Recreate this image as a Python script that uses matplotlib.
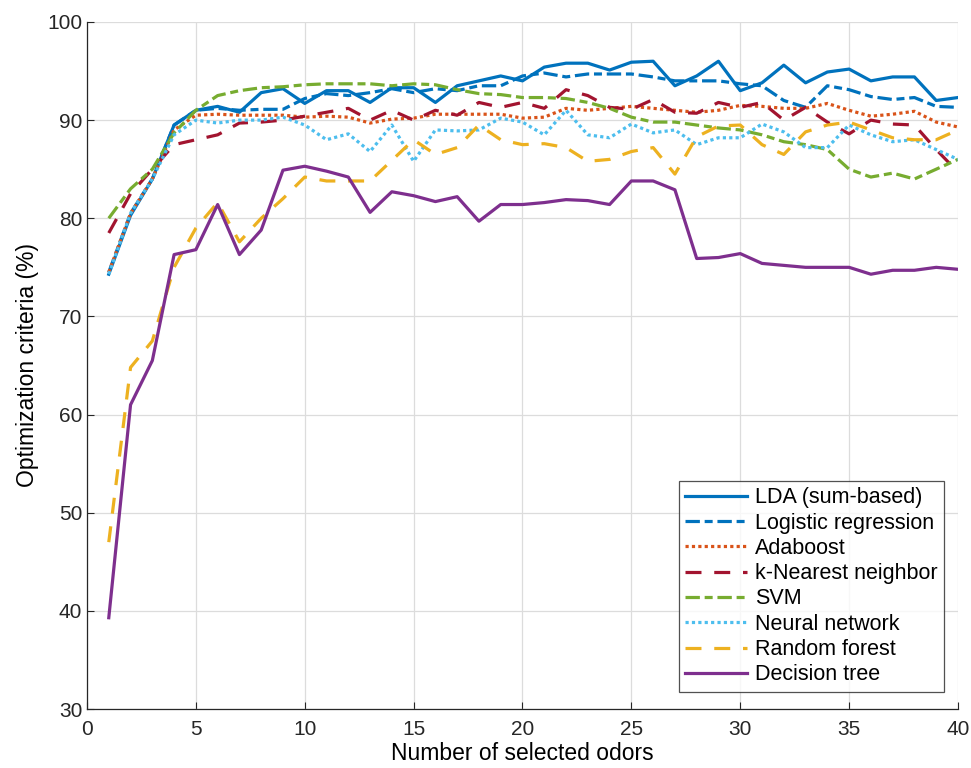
import numpy as np
import matplotlib.pyplot as plt

plt.rcParams['font.family'] = ['Liberation Sans', 'DejaVu Sans']

n_odors = np.arange(1, 41)

lda = [74.3, 80.3, 84.0, 89.5, 91.0, 91.4, 90.8, 92.8, 93.2, 91.7,
       93.0, 93.0, 91.8, 93.3, 93.3, 91.8, 93.5, 94.0, 94.5, 94.0,
       95.4, 95.8, 95.8, 95.1, 95.9, 96.0, 93.5, 94.5, 96.0, 93.0,
       93.8, 95.6, 93.8, 94.9, 95.2, 94.0, 94.4, 94.4, 92.0, 92.3]
logistic = [74.5, 80.5, 84.0, 89.5, 91.0, 91.2, 91.0, 91.1, 91.1, 92.2,
            92.7, 92.5, 92.8, 93.2, 92.8, 93.2, 93.0, 93.5, 93.5, 94.5,
            94.8, 94.4, 94.7, 94.7, 94.7, 94.4, 94.0, 94.0, 94.0, 93.7,
            93.5, 92.0, 91.3, 93.5, 93.1, 92.4, 92.1, 92.3, 91.4, 91.3]
adaboost = [74.5, 80.5, 84.0, 89.0, 90.5, 90.6, 90.5, 90.5, 90.5, 90.3,
            90.4, 90.3, 89.7, 90.1, 90.2, 90.6, 90.6, 90.6, 90.6, 90.2,
            90.3, 91.2, 91.0, 91.2, 91.4, 91.2, 91.0, 90.8, 91.0, 91.5,
            91.4, 91.2, 91.2, 91.7, 91.0, 90.4, 90.6, 90.9, 89.8, 89.3]
knn = [78.5, 82.5, 85.0, 87.5, 88.0, 88.5, 89.7, 89.8, 90.0, 90.4,
       90.8, 91.2, 90.0, 91.0, 90.0, 91.0, 90.5, 91.8, 91.3, 91.8,
       91.2, 93.1, 92.5, 91.3, 91.1, 92.1, 90.8, 90.7, 91.8, 91.3,
       91.8, 90.0, 91.3, 89.8, 88.6, 90.0, 89.6, 89.5, 87.0, 84.7]
svm = [80.0, 83.0, 85.0, 88.7, 91.0, 92.5, 93.0, 93.3, 93.4, 93.6,
       93.7, 93.7, 93.7, 93.5, 93.7, 93.6, 93.1, 92.7, 92.6, 92.3,
       92.3, 92.2, 91.8, 91.2, 90.3, 89.8, 89.8, 89.5, 89.2, 89.0,
       88.5, 87.8, 87.5, 87.0, 85.0, 84.2, 84.6, 84.0, 85.0, 86.0]
neural = [74.3, 80.5, 84.0, 88.5, 90.0, 89.7, 90.0, 90.0, 90.3, 89.5,
          88.0, 88.6, 86.8, 89.5, 85.8, 89.0, 88.9, 89.0, 90.2, 89.8,
          88.5, 91.0, 88.5, 88.2, 89.6, 88.7, 89.0, 87.5, 88.2, 88.2,
          89.6, 88.8, 87.2, 87.2, 89.5, 88.5, 87.8, 88.0, 87.0, 86.0]
forest = [47.0, 64.8, 67.5, 75.0, 79.0, 81.6, 77.6, 80.0, 82.0, 84.2,
          83.8, 83.8, 83.8, 85.9, 88.0, 86.5, 87.2, 89.5, 88.0, 87.5,
          87.6, 87.2, 85.8, 86.0, 86.8, 87.2, 84.5, 88.3, 89.4, 89.5,
          87.5, 86.5, 88.8, 89.5, 89.8, 89.0, 88.2, 88.0, 88.0, 89.0]
tree = [39.3, 61.0, 65.5, 76.3, 76.8, 81.4, 76.3, 78.8, 84.9, 85.3,
        84.8, 84.2, 80.6, 82.7, 82.3, 81.7, 82.2, 79.7, 81.4, 81.4,
        81.6, 81.9, 81.8, 81.4, 83.8, 83.8, 82.9, 75.9, 76.0, 76.4,
        75.4, 75.2, 75.0, 75.0, 75.0, 74.3, 74.7, 74.7, 75.0, 74.8]

fig = plt.figure(figsize=(9.71, 7.68), dpi=100)
ax = fig.add_axes([0.0896, 0.0768, 0.897, 0.8946])

lw = 2.3
ax.plot(n_odors, lda, color='#0072BD', lw=lw, ls='-', label='LDA (sum-based)')
ax.plot(n_odors, logistic, color='#0072BD', lw=lw, ls=(0, (4.5, 1.5, 2.5, 1.5)), label='Logistic regression')
ax.plot(n_odors, adaboost, color='#D95319', lw=lw, ls=(0, (1, 1)), label='Adaboost')
ax.plot(n_odors, knn, color='#A2142F', lw=lw, ls=(0, (5, 4)), label='k-Nearest neighbor')
ax.plot(n_odors, svm, color='#77AC30', lw=lw, ls=(0, (4.5, 1.5, 2.5, 1.5)), label='SVM')
ax.plot(n_odors, neural, color='#4DBEEE', lw=lw, ls=(0, (1, 1)), label='Neural network')
ax.plot(n_odors, forest, color='#EDB120', lw=lw, ls=(0, (5, 4)), label='Random forest')
ax.plot(n_odors, tree, color='#7E2F8E', lw=lw, ls='-', label='Decision tree')

ax.set_xlim(0, 40)
ax.set_ylim(30, 100)
ax.set_xticks(np.arange(0, 41, 5))
ax.set_yticks(np.arange(30, 101, 10))
ax.grid(True, color='#dcdcdc', lw=0.9)
ax.set_axisbelow(True)
ax.tick_params(direction='in', labelsize=15, colors='#262626', length=5, top=False, right=False)
ax.tick_params(axis='x', pad=8)
for s in ax.spines.values():
    s.set_color('#262626')
    s.set_linewidth(0.9)
ax.spines['top'].set_visible(False)
ax.spines['right'].set_visible(False)
ax.set_xlabel('Number of selected odors', fontsize=16.5, labelpad=2)
ax.set_ylabel('Optimization criteria (%)', fontsize=16.5, labelpad=6)

leg = ax.legend(loc='lower right', bbox_to_anchor=(0.984, 0.025), fontsize=15.5,
                frameon=True, fancybox=False, handlelength=2.9, handletextpad=0.35,
                borderpad=0.3, labelspacing=0.2, borderaxespad=0)
leg.get_frame().set_edgecolor('#262626')
leg.get_frame().set_linewidth(0.9)

fig.savefig('out.png', dpi=100)
